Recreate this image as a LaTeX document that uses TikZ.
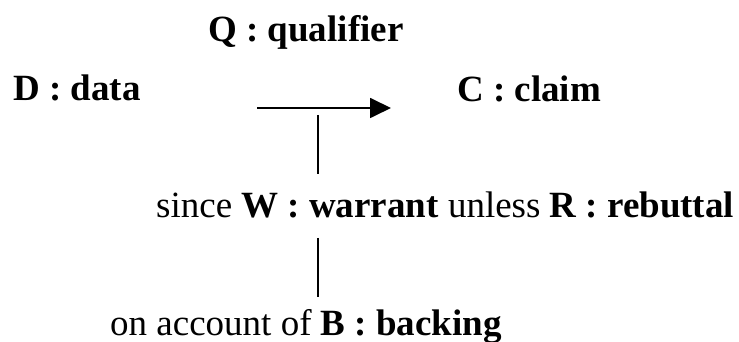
\documentclass[tikz,border=0pt]{standalone}
\usepackage{fontspec}
\setmainfont{Liberation Serif}
\usetikzlibrary{arrows.meta}
\begin{document}
\begin{tikzpicture}[x=1pt,y=1pt,
  label/.style={anchor=base west,inner sep=0pt,font=\fontsize{37}{42}\selectfont},
  link/.style={line width=1.2pt},
  infer/.style={line width=1.8pt,-{Triangle[length=21pt,width=20pt]}}]
  \useasboundingbox (0,0) rectangle (739,342);
  % Toulmin layout: data, qualifier and claim across the top
  \node[label] (qual) at (208,300) {\textbf{Q : qualifier}};
  \node[label] (data) at (13,241) {\textbf{D : data}};
  \node[label] (claim) at (457,240) {\textbf{C : claim}};
  % warrant / rebuttal and backing below
  \node[label] (warrant) at (156,124) {since \textbf{W : warrant} unless \textbf{R : rebuttal}};
  \node[label] (backing) at (110,6) {on account of \textbf{B : backing}};
  % inference arrow and its support lines
  \coordinate (from) at (257,234);
  \coordinate (to) at (391,234);
  \coordinate (hook) at (318,227);
  \coordinate (wtop) at (318,168);
  \coordinate (wbot) at (318,104);
  \coordinate (btop) at (318,45);
  \draw[infer] (from) -- (to);
  \draw[link] (hook) -- (wtop);
  \draw[link] (wbot) -- (btop);
\end{tikzpicture}
\end{document}
